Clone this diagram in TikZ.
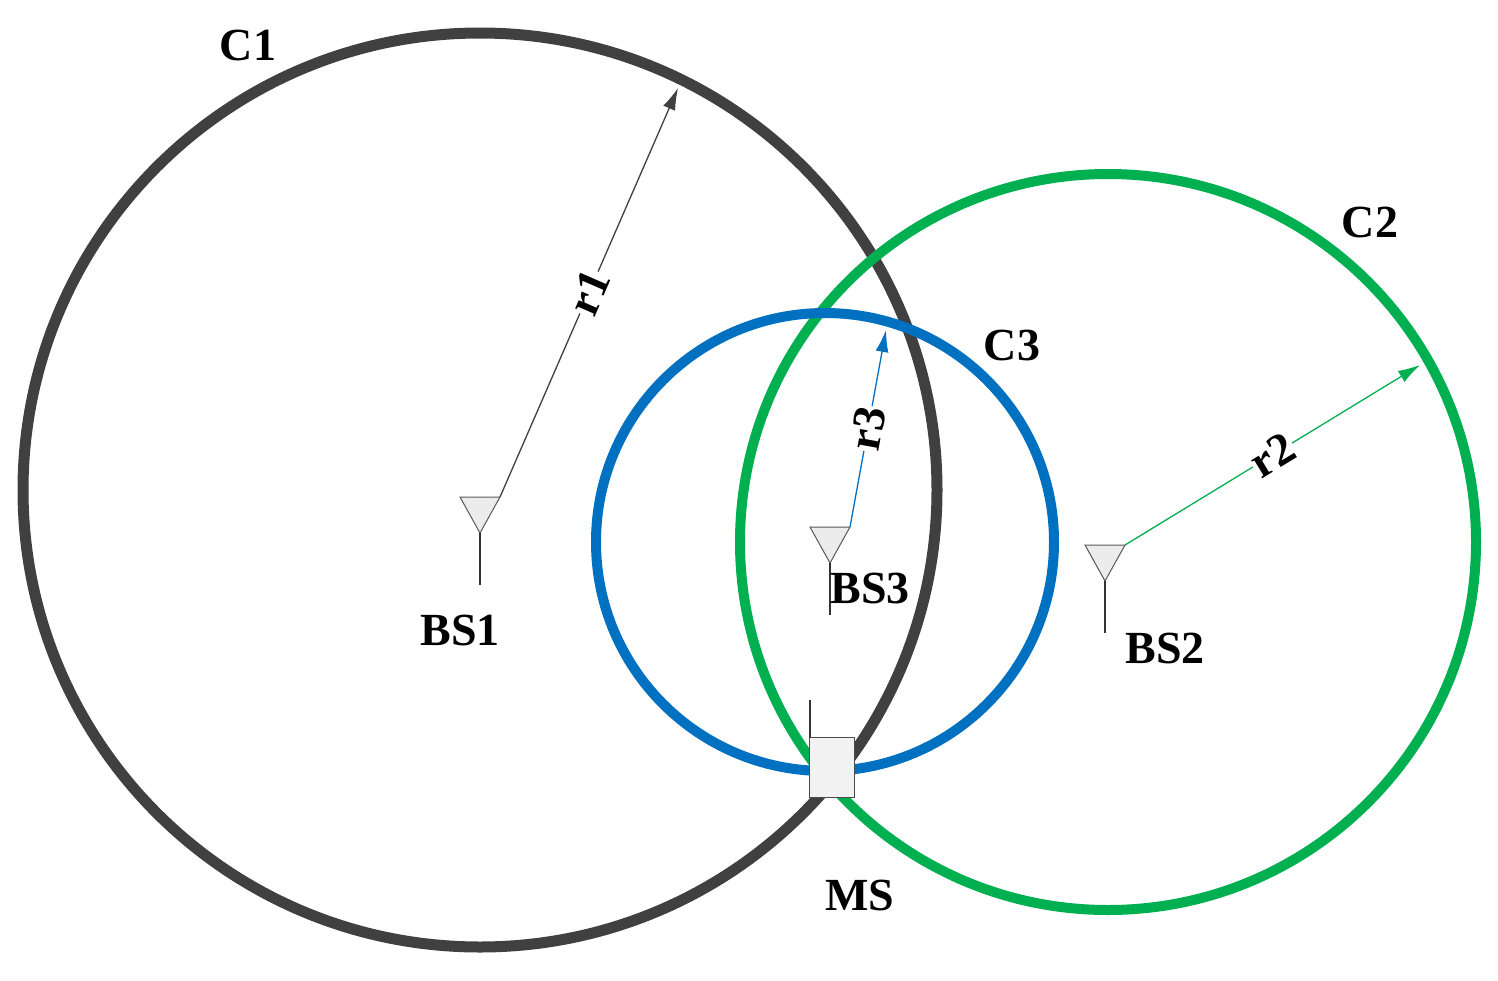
\documentclass[tikz,border=0pt]{standalone}
\usepackage{fontspec}
\setmainfont{Liberation Serif}
\usetikzlibrary{arrows.meta}
\definecolor{cdark}{RGB}{64,64,64}
\definecolor{cgreen}{RGB}{0,176,80}
\definecolor{cblue}{RGB}{0,112,192}
\begin{document}
\begin{tikzpicture}[x=1pt,y=-1pt,
  lbl/.style={font=\fontsize{46}{48}\selectfont\bfseries},
  rad/.style={line width=1.3pt,-{Latex[length=22pt,width=13pt]}},
  rl/.style={lbl,fill=white,inner sep=1pt,sloped}]
\useasboundingbox (0,0) rectangle (1498,980);
\draw[cdark,line width=11pt] (480,490) circle[radius=457];
\draw[cgreen,line width=10pt] (1108,542) circle[radius=368];
\draw[cblue,line width=10pt] (825,542) circle[radius=229];
% antennas
\foreach \n/\x/\y in {a1/480/497,a3/830/527,a2/1105/545}{
  \coordinate (\n) at (\x+20,\y);
  \draw[gray!70!black,fill=gray!15,line width=1pt] (\x-20,\y) -- (\x+20,\y) -- (\x,\y+36) -- cycle;
  \draw[gray!40!black,line width=1.2pt] (\x,\y+36) -- (\x,\y+88);
}
\coordinate (t1) at (678,88);
\coordinate (t3) at (886,330);
\coordinate (t2) at (1420,365);
\draw[rad,cdark] (a1) -- node[rl,text=black]{r1} (t1);
\draw[rad,cblue] (a3) -- node[rl,text=black]{r3} (t3);
\draw[rad,cgreen] (a2) -- node[rl,text=black]{r2} (t2);
% MS
\draw[gray!40!black,line width=1.2pt] (810,700) -- (810,737);
\node[draw=gray!60!black,fill=gray!10,line width=1pt,minimum width=45pt,minimum height=60pt,inner sep=0pt] (ms) at (832,767) {};
\node[lbl] (c1) at (248,45) {C1};
\node[lbl] (c2) at (1370,222) {C2};
\node[lbl] (c3) at (1012,345) {C3};
\node[lbl] (b1) at (460,630) {BS1};
\node[lbl] (b3) at (870,588) {BS3};
\node[lbl] (b2) at (1165,648) {BS2};
\node[lbl] (msl) at (860,895) {MS};
\end{tikzpicture}
\end{document}
